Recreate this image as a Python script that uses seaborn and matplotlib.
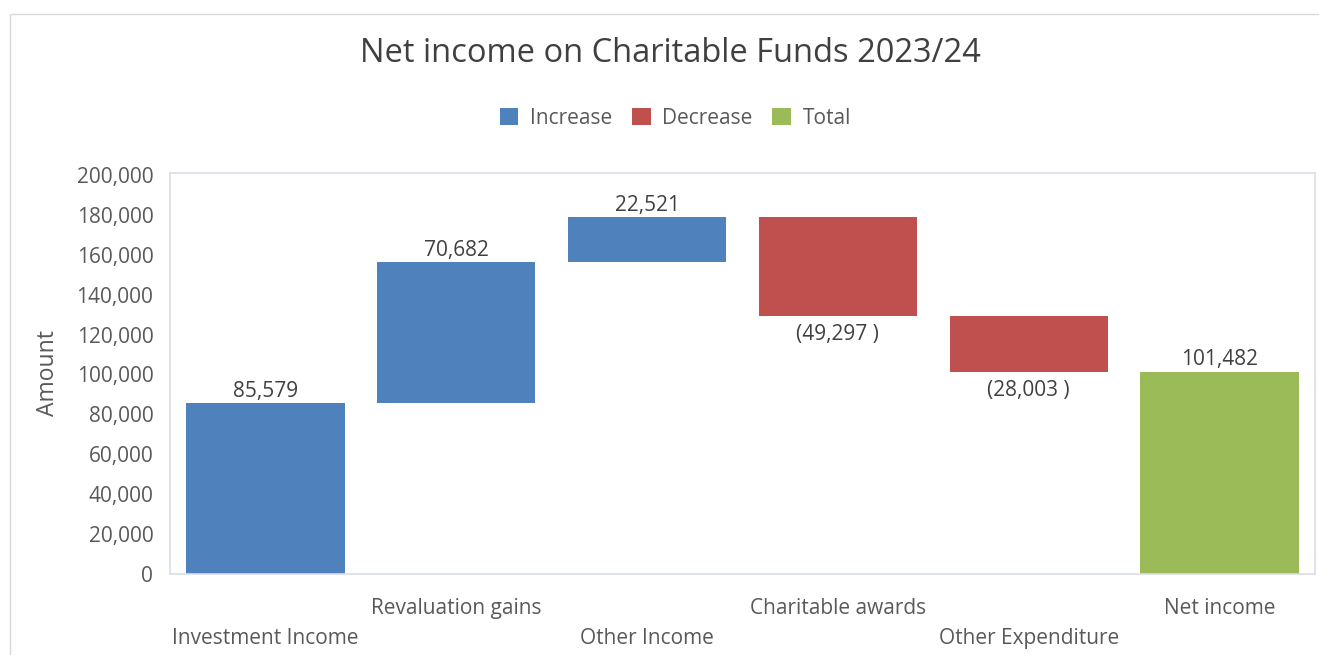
import matplotlib
matplotlib.use("Agg")
import matplotlib.pyplot as plt
from matplotlib.patches import Patch, Rectangle
import seaborn as sns
import pandas as pd

categories = ["Investment Income", "Revaluation gains", "Other Income",
              "Charitable awards", "Other Expenditure", "Net income"]
changes = [85579, 70682, 22521, -49297, -28003, 101482]
kinds = ["Increase", "Increase", "Increase", "Decrease", "Decrease", "Total"]
colors = {"Increase": "#4F81BD", "Decrease": "#C0504D", "Total": "#9BBB59"}
yticks = [0, 20000, 40000, 60000, 80000, 100000, 120000, 140000, 160000, 180000, 200000]

# waterfall geometry
bases, heights = [], []
running = 0
for c, k in zip(changes, kinds):
    if k == "Total":
        bases.append(0); heights.append(c); running = c
    elif c >= 0:
        bases.append(running); heights.append(c); running += c
    else:
        bases.append(running + c); heights.append(-c); running += c

df = pd.DataFrame({"cat": categories, "height": heights, "base": bases, "kind": kinds})

sns.set_theme(style="white")
plt.rcParams["font.family"] = ["Open Sans", "DejaVu Sans"]
text_color = "#595959"

fig = plt.figure(figsize=(13.19, 6.55), dpi=100)
ax = fig.add_axes([170/1319, 1-574/655, (1315-170)/1319, (574-173)/655])

sns.barplot(data=df, x="cat", y="height", order=categories, bottom=df["base"].values,
            width=0.83, color="#4F81BD", ax=ax, linewidth=0, saturation=1)
for patch, k in zip(ax.patches, kinds):
    patch.set_facecolor(colors[k])
    patch.set_edgecolor("none")

# data labels
for i, (c, k, b, h) in enumerate(zip(changes, kinds, bases, heights)):
    if c >= 0:
        ax.annotate(f"{abs(c):,}", (i, b + h), xytext=(0, 1), textcoords="offset points",
                    ha="center", va="bottom", fontsize=15, color="#404040")
    else:
        ax.annotate(f"({abs(c):,} )", (i, b), xytext=(0, -6), textcoords="offset points",
                    ha="center", va="top", fontsize=15, color="#404040")

ax.set_ylim(0, 201000)
ax.set_xlim(-0.5, len(categories) - 0.5)
ax.set_yticks(yticks)
ax.set_yticklabels([f"{v:,}" for v in yticks])
ax.tick_params(axis="y", length=0, pad=12, labelsize=15, labelcolor=text_color)
ax.tick_params(axis="x", length=0, labelsize=15, labelcolor=text_color)
for i, tick in enumerate(ax.xaxis.get_major_ticks()):
    tick.set_pad(17 if i % 2 == 1 else 39)
ax.set_xlabel("")
ax.set_ylabel("Amount", fontsize=16.5, color=text_color, labelpad=12)
for s in ax.spines.values():
    s.set_color("#D9DEE8")
    s.set_linewidth(1.2)

fig.text(0.508, 1-54/655, "Net income on Charitable Funds 2023/24", ha="center", va="center",
         fontsize=23.5, color="#404040")

handles = [Patch(facecolor=colors[k], edgecolor="none", label=k) for k in ["Increase", "Decrease", "Total"]]
fig.legend(handles=handles, loc="center", bbox_to_anchor=(0.512, 1-118/655), ncol=3,
           frameon=False, fontsize=15, handlelength=0.9, handleheight=0.9,
           handletextpad=0.55, columnspacing=0.95, labelcolor=text_color)

fig.patches.append(Rectangle((10/1319, -0.05), 1.2, 1.05 - 14/655, transform=fig.transFigure,
                             fill=False, edgecolor="#D9D9D9", linewidth=1, zorder=-1))

fig.savefig("out.png", dpi=100)
